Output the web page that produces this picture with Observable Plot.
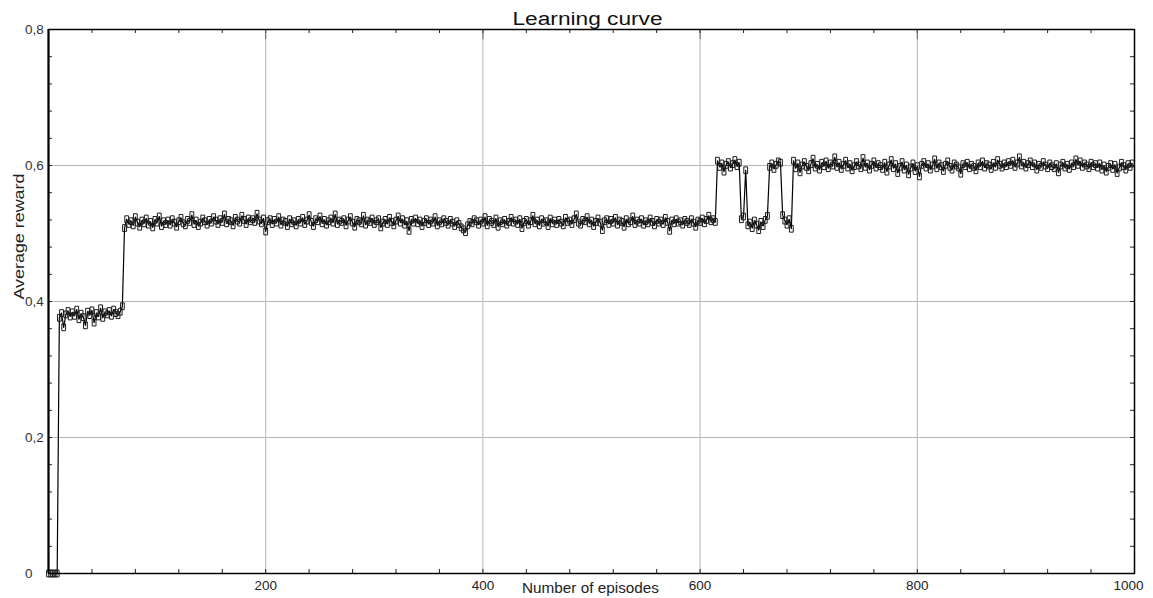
<!DOCTYPE html>
<html><head><meta charset="utf-8">
<script src="https://cdn.jsdelivr.net/npm/d3@7"></script>
<script src="https://cdn.jsdelivr.net/npm/@observablehq/plot@0.6"></script>
<style>
html,body{margin:0;padding:0;background:#fff;}
#chart svg{display:block;}
#chart svg g[aria-label="x-axis tick label"], #chart svg g[aria-label="y-axis tick label"]{font-size:13.5px;}
</style>
</head><body><div id="chart"></div>
<script>
const title = "Learning curve";
const xLabel = "Number of episodes";
const yLabel = "Average reward";
const episodeStep = 2;

const warmup = [0,0,0,0,0];
const phase1 = [0.376,0.383,0.362,0.381,0.386,0.378,0.384,0.379,0.388,0.374,0.382,0.377,0.365,0.385,0.380,0.387,0.369,0.383,0.378,0.390,0.376,0.384,0.381,0.386,0.379,0.388,0.383,0.380,0.385,0.393];
const phase2 = [
0.508,0.521,0.514,0.518,0.512,0.524,0.516,0.510,0.519,0.515,0.522,0.513,0.517,0.509,0.520,0.516,0.525,0.511,0.518,0.514,
0.519,0.513,0.521,0.516,0.510,0.518,0.523,0.515,0.512,0.520,0.517,0.527,0.514,0.519,0.511,0.516,0.522,0.518,0.513,0.520,
0.516,0.524,0.519,0.514,0.521,0.517,0.528,0.515,0.520,0.518,0.512,0.523,0.519,0.516,0.526,0.520,0.514,0.522,0.518,0.521,
0.517,0.529,0.519,0.515,0.522,0.503,0.518,0.521,0.514,0.520,0.516,0.524,0.513,0.519,0.517,0.511,0.521,0.515,0.518,0.512,
0.520,0.516,0.523,0.514,0.519,0.527,0.517,0.511,0.521,0.518,0.525,0.515,0.520,0.513,0.518,0.522,0.516,0.528,0.514,0.519,
0.517,0.521,0.512,0.519,0.524,0.516,0.510,0.520,0.518,0.515,0.526,0.513,0.519,0.517,0.522,0.514,0.518,0.521,0.509,0.516,
0.520,0.514,0.523,0.517,0.512,0.519,0.525,0.516,0.521,0.513,0.518,0.504,0.520,0.516,0.522,0.515,0.519,0.511,0.517,0.521,
0.514,0.519,0.516,0.524,0.512,0.518,0.515,0.521,0.517,0.513,0.520,0.516,0.511,0.518,0.514,0.509,0.506,0.502,0.512,0.517,
0.515,0.521,0.518,0.513,0.519,0.516,0.524,0.512,0.520,0.517,0.514,0.522,0.510,0.518,0.515,0.520,0.513,0.517,0.523,0.516,
0.519,0.514,0.521,0.508,0.517,0.520,0.513,0.518,0.526,0.515,0.519,0.512,0.521,0.516,0.518,0.511,0.522,0.515,0.519,0.514,
0.520,0.516,0.512,0.523,0.517,0.519,0.514,0.521,0.528,0.516,0.513,0.520,0.518,0.524,0.515,0.519,0.511,0.517,0.522,0.516,
0.505,0.518,0.521,0.514,0.520,0.516,0.523,0.513,0.519,0.517,0.510,0.521,0.515,0.518,0.525,0.514,0.519,0.516,0.521,0.513,
0.518,0.515,0.522,0.517,0.512,0.520,0.516,0.519,0.514,0.523,0.517,0.504,0.519,0.515,0.521,0.516,0.518,0.513,0.520,0.517,
0.514,0.521,0.516,0.510,0.519,0.517,0.522,0.515,0.520,0.526,0.518,0.521,0.517];
const phase3 = [0.607,0.598,0.603,0.591,0.601,0.605,0.597,0.602,0.608,0.599,0.604];
const wobble = [0.521,0.525,0.593,0.512];
const dipA = [0.516,0.508,0.519,0.513,0.505,0.517,0.511,0.520,0.526];
const peakB = [0.598,0.603,0.595,0.601,0.606,0.604];
const dipC = [0.527,0.519,0.513,0.521,0.507];
const phase5 = [
0.607,0.596,0.603,0.590,0.600,0.605,0.598,0.593,0.602,0.610,0.597,0.601,0.594,0.604,0.599,0.606,0.596,0.603,0.600,0.612,
0.598,0.604,0.595,0.601,0.607,0.597,0.602,0.593,0.599,0.605,0.600,0.596,0.611,0.598,0.603,0.594,0.601,0.606,0.597,0.602,
0.599,0.595,0.604,0.591,0.600,0.608,0.596,0.602,0.589,0.598,0.605,0.594,0.600,0.587,0.597,0.603,0.592,0.599,0.584,0.601,
0.605,0.597,0.602,0.594,0.600,0.609,0.596,0.603,0.599,0.592,0.601,0.606,0.598,0.594,0.603,0.600,0.597,0.588,0.602,0.599,
0.604,0.596,0.601,0.598,0.593,0.603,0.599,0.606,0.597,0.602,0.600,0.595,0.604,0.598,0.608,0.601,0.597,0.603,0.599,0.605,
0.601,0.607,0.598,0.603,0.612,0.600,0.604,0.597,0.602,0.606,0.599,0.603,0.594,0.601,0.598,0.605,0.600,0.596,0.603,0.599,
0.596,0.602,0.590,0.600,0.604,0.597,0.601,0.595,0.603,0.599,0.609,0.601,0.606,0.598,0.603,0.600,0.596,0.604,0.599,0.602,
0.597,0.603,0.594,0.600,0.591,0.598,0.602,0.595,0.601,0.589,0.597,0.604,0.599,0.594,0.602,0.598,0.603];

const rewards = [].concat(warmup, phase1, phase2, phase3, wobble, dipA, peakB, dipC, phase5);
const data = rewards.map((r, i) => ({episode: i * episodeStep, reward: r}));

const xTicks = [200, 400, 600, 800];
const xTickLast = [1000];
const yTicks = [0, 0.2, 0.4, 0.6, 0.8];
const yTickLabels = ["0", "0,2", "0,4", "0,6", "0,8"];
const xGrid = [200, 400, 600, 800];
const yGrid = [0.2, 0.4, 0.6];
const xMinor = d3.range(0, 1001, 40);
const yMinor = d3.range(0, 0.8001, 0.04);

const font = "'Liberation Sans', Arial, sans-serif";
const rectSymbol = {draw(ctx) { ctx.rect(-1.9, -3.4, 3.8, 6.8); }};

const plot = Plot.plot({
  width: 1153, height: 598,
  marginLeft: 48, marginRight: 19, marginTop: 29, marginBottom: 25,
  style: {fontFamily: font, fontSize: "13px", background: "#fff", overflow: "visible"},
  x: {domain: [0, 1000], axis: null},
  y: {domain: [0, 0.8], axis: null},
  marks: [
    Plot.ruleX(xGrid, {stroke: "#b5b5b5", strokeWidth: 1}),
    Plot.ruleY(yGrid, {stroke: "#b5b5b5", strokeWidth: 1}),
    Plot.tickX(xMinor, {x: d => d, insetTop: 540, stroke: "#222"}),
    Plot.tickX(xMinor, {x: d => d, insetBottom: 540, stroke: "#222"}),
    Plot.tickY(yMinor, {y: d => d, insetRight: 1082, stroke: "#222"}),
    Plot.tickY(yMinor, {y: d => d, insetLeft: 1082, stroke: "#222"}),
    Plot.tickX(xGrid, {x: d => d, insetBottom: 534, stroke: "#666"}),
    Plot.line(data, {x: "episode", y: "reward", stroke: "#000", strokeWidth: 1.2}),
    Plot.dot(data, {x: "episode", y: "reward", symbol: rectSymbol, fill: "none", stroke: "#1a1a1a", strokeWidth: 1}),
    Plot.frame({stroke: "#000", strokeWidth: 1.5}),
    Plot.ruleX([0], {stroke: "#000", strokeWidth: 2}),
    Plot.axisY({ticks: yTicks, tickSize: 0, tickPadding: 23.5, textAnchor: "start", label: null,
      tickFormat: d => yTickLabels[yTicks.indexOf(d)], fontSize: 13.5, fill: "#333"}),
    Plot.axisX({ticks: xTicks, tickSize: 0, tickPadding: 6.5, label: null, tickFormat: d => `${d}`, fontSize: 13.5, fill: "#222"}),
    Plot.axisX({ticks: xTickLast, tickSize: 0, tickPadding: 6.5, label: null, tickFormat: d => `${d}`, fontSize: 13.5, fill: "#222", dx: -6}),
    Plot.text([title], {text: d => d, frameAnchor: "top", dx: -4, dy: -5, lineAnchor: "bottom", fontSize: 18, fill: "#111"}),
    Plot.text([xLabel], {text: d => d, frameAnchor: "bottom", dx: -1, dy: 19, lineAnchor: "bottom", fontSize: 15.5, fill: "#222"}),
    Plot.text([yLabel], {text: d => d, frameAnchor: "left", rotate: -90, dx: -25, dy: -2, lineAnchor: "bottom", fontSize: 14.5, fill: "#222"})
  ]
});

const lengths = {[title]: 150, [xLabel]: 137, [yLabel]: 126};
plot.querySelectorAll("text").forEach(t => {
  const L = lengths[t.textContent];
  if (L) { t.setAttribute("textLength", L); t.setAttribute("lengthAdjust", "spacingAndGlyphs"); }
});
document.getElementById("chart").appendChild(plot);
</script>
</body></html>
